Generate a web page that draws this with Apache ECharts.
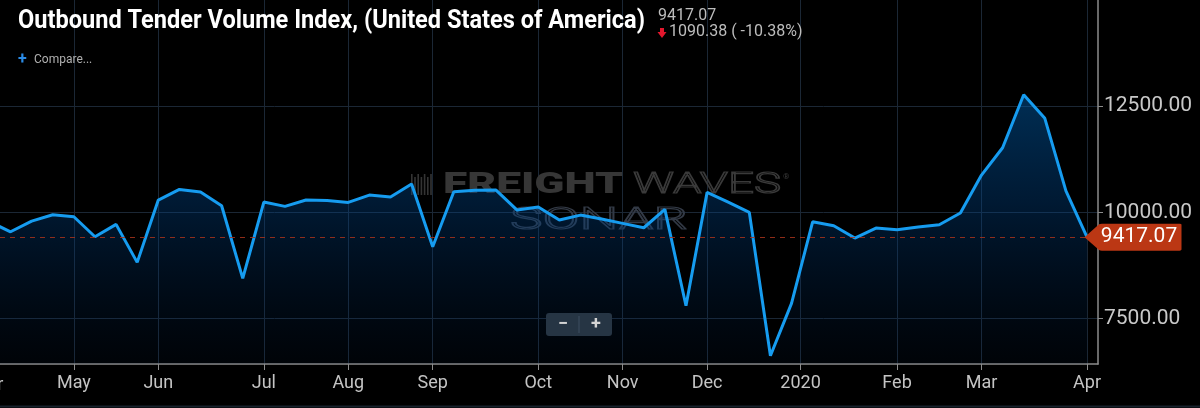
<!DOCTYPE html>
<html><head><meta charset="utf-8">
<script src="https://cdn.jsdelivr.net/npm/echarts@6/dist/echarts.min.js"></script>
<style>html,body{margin:0;padding:0;background:#000;overflow:hidden}#c{width:1200px;height:408px;}</style>
</head><body><div id="c"></div>
<script>
// weekly observations (Sundays)
const weeks = ['2019-04-07','2019-04-14','2019-04-21','2019-04-28','2019-05-05','2019-05-12','2019-05-19','2019-05-26',
'2019-06-02','2019-06-09','2019-06-16','2019-06-23','2019-06-30','2019-07-07','2019-07-14','2019-07-21','2019-07-28',
'2019-08-04','2019-08-11','2019-08-18','2019-08-25','2019-09-01','2019-09-08','2019-09-15','2019-09-22','2019-09-29',
'2019-10-06','2019-10-13','2019-10-20','2019-10-27','2019-11-03','2019-11-10','2019-11-17','2019-11-24',
'2019-12-01','2019-12-08','2019-12-15','2019-12-22','2019-12-29','2020-01-05','2020-01-12','2020-01-19','2020-01-26',
'2020-02-02','2020-02-09','2020-02-16','2020-02-23','2020-03-01','2020-03-08','2020-03-15','2020-03-22','2020-03-29','2020-04-05'];
const values = [9780,9543,9795,9944,9897,9426,9717,8823,
10290,10541,10478,10155,8446,10242,10141,10290,10282,
10235,10407,10360,10666,9190,10485,10518,10525,10054,
10125,9819,9936,9842,9741,9638,10071,7801,
10471,10242,10000,6624,7858,9779,9685,9395,9630,
9591,9654,9708,9984,10878,11521,12768,12213,10507.45,9417.07];
const tickPositions = [4,8,13,17,21,26,30,34,38.43,43,47,52];
const tickLabels = ['May','Jun','Jul','Aug','Sep','Oct','Nov','Dec','2020','Feb','Mar','Apr'];
const firstLabel = 'Apr';
const yTicks = [7500,10000,12500];
const titleText = 'Outbound Tender Volume Index, (United States of America)';

const lastValue = values[values.length-1];
const prevValue = values[values.length-2];
const change = lastValue - prevValue;
const pct = change / prevValue * 100;

const mctx = document.createElement('canvas').getContext('2d');
function fitScale(text, font, w){ mctx.font = font; return w / mctx.measureText(text).width; }

const chart = echarts.init(document.getElementById('c'), null, {renderer:'canvas'});
chart.setOption({
  backgroundColor:'#000',
  animation:false,
  grid:{left:0, right:102, top:0, bottom:44},
  xAxis:{type:'value', min:0.5, max:52.52,
    axisLine:{show:true, onZero:false, lineStyle:{color:'#8c8c8c', width:1.5}},
    axisTick:{show:true, length:6, customValues:tickPositions, lineStyle:{color:'#8c8c8c'}},
    axisLabel:{customValues:tickPositions, color:'#c4c4c4', fontSize:18, fontFamily:'Roboto', margin:10,
      formatter:v=>{ const k = tickPositions.indexOf(v); return k>=0 ? tickLabels[k] : ''; }},
    splitLine:{show:true, lineStyle:{color:'#1b2735', width:1}}
  },
  yAxis:{type:'value', position:'right', min:6430, max:15000,
    axisLine:{show:true, lineStyle:{color:'#8c8c8c', width:1.5}},
    axisTick:{show:true, length:5, customValues:yTicks, lineStyle:{color:'#8c8c8c'}},
    axisLabel:{customValues:yTicks, color:'#c8c8c8', fontSize:21, fontFamily:'Roboto', margin:6,
      formatter:v=>Number(v).toFixed(2)},
    splitLine:{show:true, lineStyle:{color:'#1b2735', width:1}}
  },
  series:[{
    type:'line', z:3,
    data: values.map((v,i)=>[i,v]),
    symbol:'none',
    lineStyle:{color:'#169cf0', width:3},
    areaStyle:{color:new echarts.graphic.LinearGradient(0,0,0,1,[
      {offset:0, color:'rgba(0,100,183,0.66)'},
      {offset:0.4, color:'rgba(0,70,140,0.52)'},
      {offset:1, color:'rgba(0,40,90,0.12)'}
    ])},
    markLine:{silent:true, symbol:'none', label:{show:false},
      lineStyle:{color:'#a8341c', type:[5,5], width:1, opacity:0.85},
      data:[{yAxis:lastValue}]},
    markPoint:{silent:true,
      symbol:'path://M0,50 L15,2 Q16,0 18,0 L98,0 Q100,0 100,4 L100,96 Q100,100 98,100 L18,100 Q16,100 15,98 Z',
      symbolSize:[97,27], symbolOffset:[46,0],
      itemStyle:{color:'#bb3714'},
      label:{show:true, position:'inside', color:'#fff', fontSize:21, fontFamily:'Roboto', offset:[6,0],
        formatter:p=>Number(p.value).toFixed(2)},
      data:[{coord:[values.length-1, lastValue], value:lastValue}]}
  }]
});

const firstX = chart.convertToPixel({xAxisIndex:0}, 0);
const titleFont = 'bold 26px Roboto';
const wmFont1 = '900 30px Roboto';
const wmFont2 = '300 30px Roboto';
const wmFont3 = '300 31px Roboto';
const barsIcon = [];
for (let k=0;k<7;k++){ barsIcon.push({type:'rect', silent:true, z:1, shape:{x:411+k*3.2, y:174+(k%2?3:0), width:1.6, height:(k%2?18:21)}, style:{fill:'#343434'}}); }

chart.setOption({graphic:[
  {type:'text', silent:true, z:20, x:18, y:21, scaleX:fitScale(titleText, titleFont, 627),
    style:{text:titleText, font:titleFont, fill:'#ffffff', verticalAlign:'middle'}},
  {type:'text', silent:true, z:20, x:658, y:16,
    style:{text:lastValue.toFixed(2), font:'16px Roboto', fill:'#bdbdbd', verticalAlign:'middle'}},
  {type:'polygon', silent:true, z:20, shape:{points:[[660,28],[664,28],[664,32],[666.5,32],[662,38],[657.5,32],[660,32]]}, style:{fill:'#e3172d'}},
  {type:'text', silent:true, z:20, x:669, y:32,
    style:{text:Math.abs(change).toFixed(2)+' ( '+pct.toFixed(2)+'%)', font:'16px Roboto', fill:'#bdbdbd', verticalAlign:'middle'}},
  {type:'text', silent:true, z:20, x:18, y:60,
    style:{text:'+', font:'bold 16px Roboto', fill:'#2b8be6', verticalAlign:'middle'}},
  {type:'text', silent:true, z:20, x:34, y:60,
    style:{text:'Compare...', font:'12px Roboto', fill:'#b0b0b0', verticalAlign:'middle'}},
  ...barsIcon,
  {type:'text', silent:true, z:1, x:443, y:185, scaleX:fitScale('FREIGHT', wmFont1, 180),
    style:{text:'FREIGHT', font:wmFont1, fill:'#363636', verticalAlign:'middle'}},
  {type:'text', silent:true, z:1, x:633, y:185, scaleX:fitScale('WAVES', wmFont2, 148),
    style:{text:'WAVES', font:wmFont2, fill:'rgba(0,0,0,0)', stroke:'#3a3a3a', lineWidth:1.2, verticalAlign:'middle'}},
  {type:'text', silent:true, z:1, x:783, y:177,
    style:{text:'®', font:'8px Roboto', fill:'#3a3a3a', verticalAlign:'middle'}},
  {type:'text', silent:true, z:1, x:510, y:221, scaleX:fitScale('SONAR', wmFont3, 178),
    style:{text:'SONAR', font:wmFont3, fill:'rgba(0,0,0,0)', stroke:'#333a46', lineWidth:1.2, verticalAlign:'middle'}},
  {type:'rect', silent:true, z:20, shape:{x:546, y:313, width:66, height:23, r:3}, style:{fill:'#263544'}},
  {type:'line', silent:true, z:21, shape:{x1:579, y1:316, x2:579, y2:333}, style:{stroke:'#3c4e60', lineWidth:1}},
  {type:'text', silent:true, z:21, x:563, y:324.5, style:{text:'−', font:'bold 18px Roboto', fill:'#d4d4d4', align:'center', verticalAlign:'middle'}},
  {type:'text', silent:true, z:21, x:596, y:324.5, style:{text:'+', font:'bold 18px Roboto', fill:'#d4d4d4', align:'center', verticalAlign:'middle'}},
  {type:'text', silent:true, z:20, x:firstX, y:385, style:{text:firstLabel, font:'18px Roboto', fill:'#c4c4c4', align:'center', verticalAlign:'middle'}},
  {type:'line', silent:true, z:20, shape:{x1:0, y1:406.5, x2:1200, y2:406.5}, style:{stroke:'#17212b', lineWidth:2}}
]});
</script>
</body></html>
